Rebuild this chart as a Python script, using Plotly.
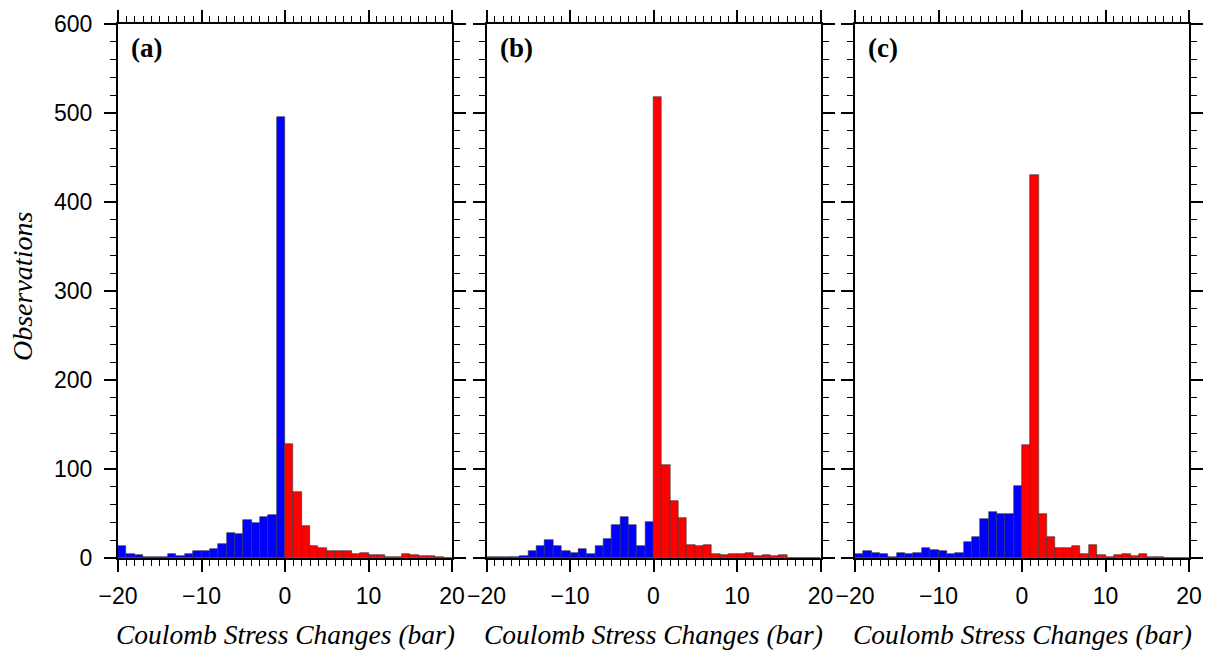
import plotly.graph_objects as go

# Bin left edges (bar) and counts per panel
bin_left = list(range(-20, 20))

counts_a = [13, 5, 3, 1, 1, 1, 5, 2, 4, 8, 7.5, 10, 16, 28, 27, 43, 39, 46, 48, 495,
            128, 74, 36, 14, 11, 8, 8, 8, 4, 6, 3, 3, 1.5, 1.5, 4, 3, 2, 2, 1, 0.5]
counts_b = [1, 1, 1, 1, 2, 7.5, 14, 20, 13, 7.5, 6, 10, 4, 14, 21, 37, 46, 37, 14, 40,
            518, 105, 64, 45, 15, 13, 15, 4, 3, 4, 5, 6, 2, 3, 2, 3, 0.5, 0.5, 0, 0]
counts_c = [4, 7.5, 6, 4, 1, 6, 5, 6, 11, 9, 8, 4, 6, 18, 24, 44, 52, 49, 49, 81,
            127, 430, 49, 24, 11, 11, 14, 5, 15, 3, 1.5, 3, 4, 2, 5, 1.5, 1.5, 0.5, 0, 0]

panel_labels = ["(a)", "(b)", "(c)"]
x_title = "Coulomb Stress Changes (bar)"
y_title = "Observations"

W, H = 1214, 656
panels_px = [(118, 452), (486.5, 820.5), (855, 1189)]
top_px, bot_px = 24, 558

fig = go.Figure()
series = [counts_a, counts_b, counts_c]
for i, counts in enumerate(series):
    centers = [b + 0.5 for b in bin_left]
    colors = ["#0000FF" if b < 0 else "#FF0000" for b in bin_left]
    sfx = "" if i == 0 else str(i + 1)
    fig.add_trace(go.Bar(
        x=centers, y=counts, width=1,
        marker=dict(color=colors, line=dict(color="#333333", width=0.6)),
        xaxis="x" + sfx, yaxis="y" + sfx, showlegend=False,
    ))

tickfont = dict(family="Liberation Sans, Arial, sans-serif", size=23, color="black")
for i, (l, r) in enumerate(panels_px):
    sfx = "" if i == 0 else str(i + 1)
    xa = dict(
        domain=[l / W, r / W], range=[-20, 20], dtick=10, tick0=0,
        ticks="outside", ticklen=12, tickwidth=1.5, tickcolor="black",
        minor=dict(dtick=1, ticks="outside", ticklen=6, tickwidth=1, tickcolor="black"),
        showline=True, linewidth=2, linecolor="black", mirror="allticks",
        showgrid=False, zeroline=False, tickfont=tickfont, automargin=False,
        ticklabelstandoff=4,
        anchor="y" + sfx, fixedrange=True,
    )
    ya = dict(
        domain=[(H - bot_px) / H, (H - top_px) / H], range=[0, 600], dtick=100,
        ticks="outside", ticklen=12, tickwidth=1.5, tickcolor="black",
        minor=dict(dtick=20, ticks="outside", ticklen=6, tickwidth=1, tickcolor="black"),
        showline=True, linewidth=2, linecolor="black", mirror="allticks",
        showgrid=False, zeroline=False, tickfont=tickfont, automargin=False,
        ticklabelstandoff=7,
        showticklabels=(i == 0), anchor="x" + sfx, fixedrange=True,
    )
    fig.layout["xaxis" + sfx] = xa
    fig.layout["yaxis" + sfx] = ya
    fig.add_annotation(
        text="<b>" + panel_labels[i] + "</b>", xref="paper", yref="paper",
        x=(l + 11) / W, y=(H - 48) / H, xanchor="left", yanchor="middle",
        showarrow=False,
        font=dict(family="Liberation Serif, Times New Roman, serif", size=27, color="black"),
    )
    fig.add_annotation(
        text="<i>" + x_title + "</i>", xref="paper", yref="paper",
        x=((l + r) / 2) / W, y=(H - 634) / H, xanchor="center", yanchor="middle",
        showarrow=False,
        font=dict(family="Liberation Serif, Times New Roman, serif", size=27.5, color="black"),
    )

fig.add_annotation(
    text="<i>" + y_title + "</i>", xref="paper", yref="paper",
    x=22 / W, y=(H - 287) / H, xanchor="center", yanchor="middle",
    textangle=-90, showarrow=False,
    font=dict(family="Liberation Serif, Times New Roman, serif", size=28, color="black"),
)

fig.update_layout(
    width=W, height=H, margin=dict(l=0, r=0, t=0, b=0, autoexpand=False),
    paper_bgcolor="white", plot_bgcolor="white", bargap=0,
)

fig.write_html("out.html")
